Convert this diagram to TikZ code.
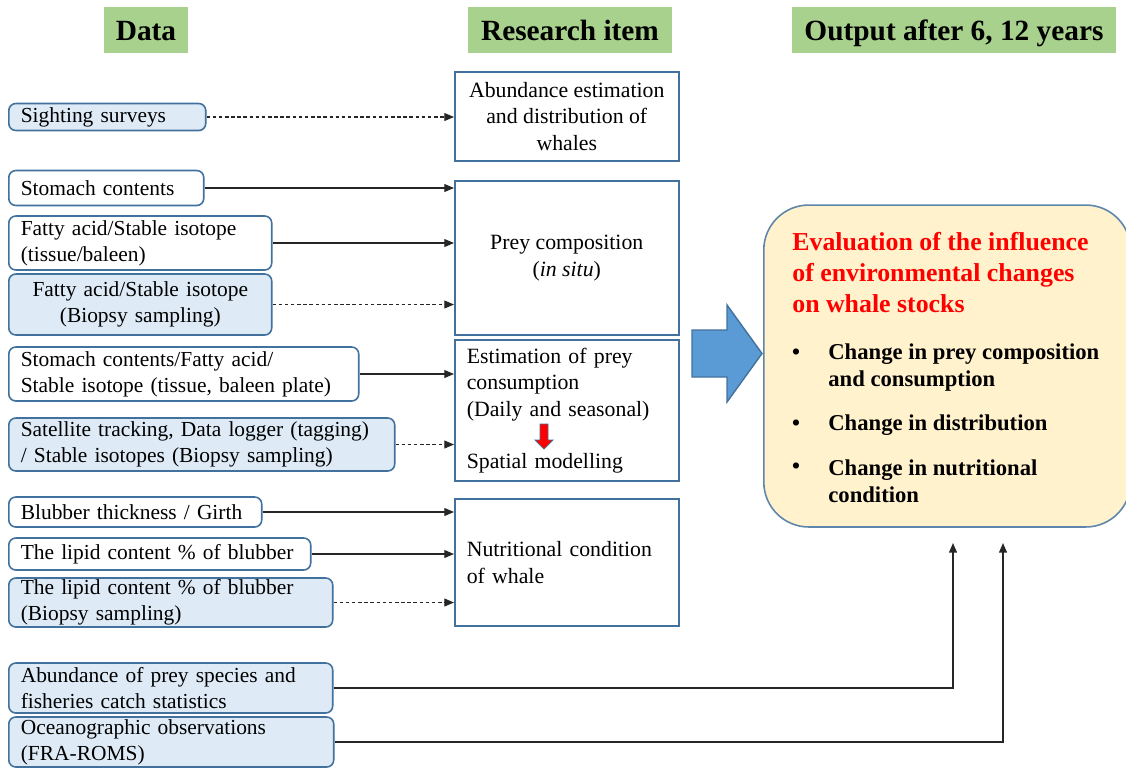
\documentclass[tikz,border=0pt]{standalone}
\usepackage{fontspec}
\setmainfont{Liberation Serif}
\usetikzlibrary{arrows.meta,calc}
\definecolor{HeadGreen}{RGB}{169,209,142}
\definecolor{SrcBlue}{RGB}{222,235,247}
\definecolor{EdgeBlue}{RGB}{65,113,156}
\definecolor{OutFill}{RGB}{255,242,204}
\definecolor{ArrBlue}{RGB}{91,155,213}
\tikzset{
  head/.style={fill=HeadGreen,inner sep=0pt,minimum height=0.92cm,
    text height=14pt,text depth=1.5pt,
    font=\bfseries\fontsize{16.7}{20}\selectfont},
  src/.style={draw=EdgeBlue,line width=0.9pt,rounded corners=4pt,fill=white,
    inner xsep=0.24cm,inner ysep=0pt,align=left,anchor=west,
    font=\fontsize{12.2}{14.8}\selectfont},
  srcb/.style={src,fill=SrcBlue},
  item/.style={draw=EdgeBlue,line width=0.9pt,fill=white,inner sep=0pt,
    anchor=west,minimum width=4.48cm,align=center,
    font=\fontsize{12.4}{15}\selectfont},
  feed/.style={draw=black!85,line width=0.6pt,-{Triangle[length=5.5pt,width=4.5pt]}},
  feedd/.style={feed,dash pattern=on 2pt off 1.5pt},
  bul/.style={anchor=center,inner sep=0pt,font=\bfseries\fontsize{12.9}{15.3}\selectfont},
  change/.style={anchor=west,align=left,inner sep=0pt,
    font=\bfseries\fontsize{12.9}{15.3}\selectfont},
}

\begin{document}
\begin{tikzpicture}[x=0.02cm,y=-0.02cm]
\useasboundingbox (0,0) rectangle (1126,769);
\fill[white] (0,0) rectangle (1126,769);

\node[head,minimum width=1.68cm] (hData) at (146,30) {Data};
\node[head,minimum width=4.08cm] (hItem) at (570,30) {Research item};
\node[head,minimum width=6.48cm] (hOut) at (954,30) {Output after 6, 12 years};

\node[srcb,text width=3.46cm,minimum height=0.54cm] (sight) at (8,117) {Sighting surveys};
\node[src,text width=3.42cm,minimum height=0.70cm] (stom) at (8,188) {Stomach contents};
\node[src,text width=4.78cm,minimum height=1.08cm] (fatT) at (8,243) {Fatty acid/Stable isotope\\(tissue/baleen)};
\node[srcb,text width=4.78cm,minimum height=1.22cm,align=center] (fatB) at (8,304.5) {Fatty acid/Stable isotope\\(Biopsy sampling)};
\node[src,text width=6.52cm,minimum height=1.08cm] (mixS) at (8,374) {Stomach contents/Fatty acid/\\Stable isotope (tissue, baleen plate)};
\node[srcb,text width=7.24cm,minimum height=1.06cm] (sat) at (8,444.5) {Satellite tracking, Data logger (tagging)\\/ Stable isotopes (Biopsy sampling)};
\node[src,text width=4.58cm,minimum height=0.60cm] (blub) at (8,512) {Blubber thickness / Girth};
\node[src,text width=5.56cm,minimum height=0.64cm] (lipid) at (8,554) {The lipid content \% of blubber};
\node[srcb,text width=6.00cm,minimum height=0.98cm] (lipidB) at (8,602.5) {The lipid content \% of blubber\\(Biopsy sampling)};
\node[srcb,text width=6.00cm,minimum height=1.00cm] (prey) at (8,688) {Abundance of prey species and\\fisheries catch statistics};
\node[srcb,text width=6.02cm,minimum height=1.00cm] (ocean) at (8,742) {Oceanographic observations\\(FRA-ROMS)};

\node[item,minimum height=1.78cm] (abund) at (454,116.5) {Abundance estimation\\and distribution of\\whales};
\node[item,minimum height=3.08cm] (comp) at (454,258) {Prey composition\\(\textit{in situ})};
\node[item,minimum height=2.82cm,align=left,text width=4.00cm,inner xsep=0.24cm] (cons) at (454,410.5) {Estimation of prey\\consumption\\(Daily and seasonal)\\[0.52cm]Spatial modelling};
\node[item,minimum height=2.54cm,align=left,text width=4.00cm,inner xsep=0.24cm] (nutr) at (454,562.5) {Nutritional condition\\of whale};

\draw[fill=red,draw=EdgeBlue,line width=0.4pt] (540,424) -- (548,424) -- (548,440) -- (553,440)
  -- (544,449) -- (535,440) -- (540,440) -- cycle;

\draw[feedd] (sight.east) -- (sight.east -| abund.west);
\draw[feed] (stom.east) -- (stom.east -| comp.west);
\draw[feed] (fatT.east) -- (fatT.east -| comp.west);
\draw[feedd] (fatB.east) -- (fatB.east -| comp.west);
\draw[feed] (mixS.east) -- (mixS.east -| cons.west);
\draw[feedd] (sat.east) -- (sat.east -| cons.west);
\draw[feed] (blub.east) -- (blub.east -| nutr.west);
\draw[feed] (lipid.east) -- (lipid.east -| nutr.west);
\draw[feedd] (lipidB.east) -- (lipidB.east -| nutr.west);

\draw[fill=ArrBlue,draw=EdgeBlue,line width=0.8pt] (692,330) -- (727,330) -- (727,305)
  -- (762,353.5) -- (727,402) -- (727,377) -- (692,377) -- cycle;

\node[draw=EdgeBlue!85,fill=OutFill,line width=0.9pt,rounded corners=0.9cm,
  minimum width=7.34cm,minimum height=6.44cm,anchor=west] (out) at (763,366) {};
\node[anchor=north west,align=left,inner sep=0pt,text=red,
  font=\bfseries\fontsize{14.7}{17.6}\selectfont] (outT) at (792,232)
  {Evaluation of the influence\\of environmental changes\\on whale stocks};
\node[bul] (b1) at (796,354) {•};
\node[bul] (b2) at (796,425) {•};
\node[bul] (b3) at (796,468) {•};
\node[change] (c1) at (828,367.5) {Change in prey composition\\and consumption};
\node[change] (c2) at (828,425) {Change in distribution};
\node[change] (c3) at (828,481.5) {Change in nutritional\\condition};

\coordinate (preyIn) at (953,543);
\coordinate (oceanIn) at (1003,543);
\draw[feed,line width=0.8pt] (prey.east) -| (preyIn);
\draw[feed,line width=0.8pt] (ocean.east) -| (oceanIn);
\end{tikzpicture}
\end{document}
